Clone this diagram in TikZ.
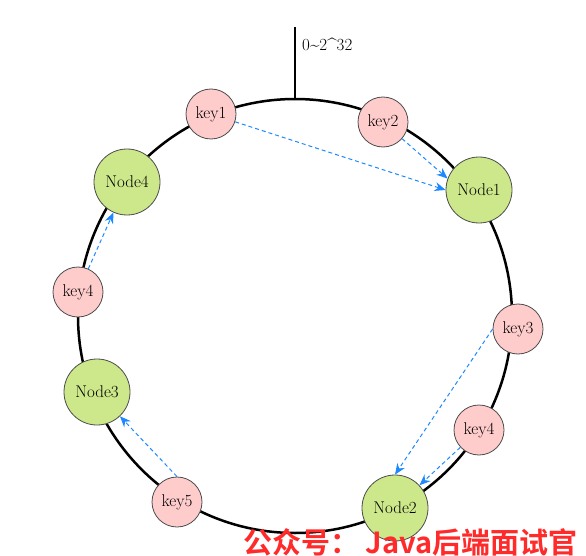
\documentclass[tikz,border=0pt]{standalone}
\usepackage{fontspec}
\newfontfamily\cjk{Noto Sans CJK SC}[BoldFont={Noto Sans CJK SC Bold}]
\usetikzlibrary{arrows.meta}
\definecolor{keypink}{HTML}{FFCCCC}
\definecolor{nodegreen}{HTML}{CDE88A}
\definecolor{arrowblue}{HTML}{1E88FF}
\definecolor{wmred}{HTML}{FF2A2A}
\tikzset{
  keynode/.style={circle, draw=black!70, line width=0.8pt, fill=keypink, minimum size=50pt, inner sep=0pt, font=\fontsize{17}{19}\selectfont},
  servernode/.style={circle, draw=black!70, line width=0.8pt, fill=nodegreen, minimum size=66pt, inner sep=0pt, font=\fontsize{17}{19}\selectfont},
  hasharrow/.style={draw=arrowblue, dashed, dash pattern=on 4pt off 3pt, line width=1pt, -{Stealth[length=11pt,width=9pt]}},
}
\begin{document}
\begin{tikzpicture}[x=1pt,y=-1pt]
\useasboundingbox (0,0) rectangle (586,556);
% ring
\draw[line width=2.5pt] (295,316) circle (217);
\coordinate (ringtop) at (295,99);
\coordinate (axistop) at (295,27);
\draw[line width=2.5pt] (ringtop) -- (axistop);
\node[anchor=west, font=\fontsize{17}{19}\selectfont, inner sep=0pt] (zero) at (302,44) {0\char`~2\char`^32};
% nodes
\node[keynode] (key1) at (211,114) {key1};
\node[keynode] (key2) at (383,122) {key2};
\node[servernode] (node1) at (479,190) {Node1};
\node[servernode] (node4) at (127,182) {Node4};
\node[keynode] (key4l) at (78,292) {key4};
\node[servernode] (node3) at (97,392) {Node3};
\node[keynode] (key5) at (177,502) {key5};
\node[servernode] (node2) at (395,508) {Node2};
\node[keynode] (key4r) at (479,430) {key4};
\node[keynode] (key3) at (518,329) {key3};
% arrows
\draw[hasharrow] (key1) -- (node1.west);
\draw[hasharrow] (key2) -- (node1.160);
\draw[hasharrow] (key4l) -- (node4);
\draw[hasharrow] (key3.west) -- (node2.north);
\draw[hasharrow] (key4r) -- (node2);
\draw[hasharrow] (key5.north) -- (node3);
% watermark
\node[anchor=west, text=wmred, font=\cjk\bfseries\fontsize{29}{32}\selectfont, inner sep=0pt] (wm) at (243,542) {公众号： Java后端面试官};
\end{tikzpicture}
\end{document}
